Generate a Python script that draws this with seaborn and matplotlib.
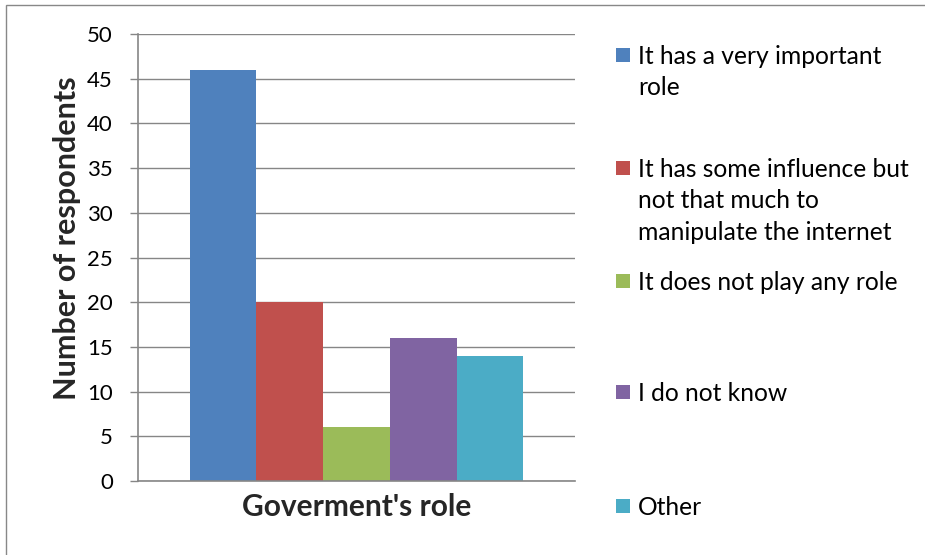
import matplotlib
matplotlib.use("Agg")
import matplotlib.pyplot as plt
from matplotlib.patches import Rectangle
import seaborn as sns
import pandas as pd

categories = ["It has a very important\nrole",
              "It has some influence but\nnot that much to\nmanipulate the internet",
              "It does not play any role",
              "I do not know",
              "Other"]
values = [46, 20, 6, 16, 14]
group = "Goverment's role"
colors = ["#4F81BD", "#C0504D", "#9BBB59", "#8064A2", "#4BACC6"]
yticks = [0, 5, 10, 15, 20, 25, 30, 35, 40, 45, 50]

sns.set_theme(style="white")
plt.rcParams['font.family'] = ['Lato', 'DejaVu Sans']

df = pd.DataFrame({"group": [group] * len(values), "resp": categories, "count": values})

W, H = 925, 555
fig = plt.figure(figsize=(W / 100, H / 100), dpi=100)
ax = fig.add_axes([138 / W, 1 - 481 / H, (575 - 138) / W, (481 - 34) / H])

sns.barplot(data=df, x="group", y="count", hue="resp", palette=colors,
            width=0.8, saturation=1, ax=ax, legend=False, errorbar=None)
for p in ax.patches:
    p.set_edgecolor("none")

ax.set_ylim(0, 50)
ax.set_xlim(-0.4 / 0.764, 0.4 / 0.764)
ax.set_yticks(yticks)
ax.set_yticklabels([str(t) for t in yticks], fontsize=16, color="#000000")
ax.set_xticks([])
ax.yaxis.grid(True, color="#868686", linewidth=1)
ax.set_axisbelow(True)
for s in ["top", "right"]:
    ax.spines[s].set_visible(False)
ax.spines["left"].set_color("#868686")
ax.spines["bottom"].set_color("#868686")
ax.spines["left"].set_linewidth(1.2)
ax.spines["bottom"].set_linewidth(1.2)
ax.tick_params(axis="y", which="major", length=6, width=1, color="#868686",
               left=True, pad=12)

ax.set_ylabel("Number of respondents", fontsize=22, fontweight="bold")
ax.yaxis.set_label_coords((81 - 138) / 437, (481 - 238) / 447)
ax.set_xlabel(group, fontsize=21.5, fontweight="bold", labelpad=9)

# legend (manual, Excel-like even spacing)
leg_y = [55, 168, 281, 392, 506]
for c, lab, y in zip(colors, categories, leg_y):
    fig.patches.append(Rectangle((616 / W, 1 - (y + 7) / H), 14 / W, 14 / H,
                                 transform=fig.transFigure, facecolor=c,
                                 edgecolor="none"))
    fig.text(638 / W, 1 - (y - 10) / H, lab, fontsize=17.7, va="top", ha="left",
             linespacing=1.44, color="#000000")

# chart-area border (top and left visible)
fig.patches.append(Rectangle((6 / W, -0.1), 1.2, 1.1 - 5 / H,
                             transform=fig.transFigure, facecolor="none",
                             edgecolor="#888888", linewidth=1))

fig.savefig("out.png", dpi=100)
